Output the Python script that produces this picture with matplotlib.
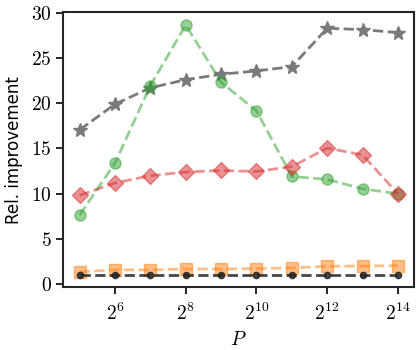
import numpy as np
import matplotlib
matplotlib.use("Agg")
import matplotlib.pyplot as plt

# data
P = [2**k for k in range(5, 15)]
baseline = [1, 1, 1, 1, 1, 1, 1, 1, 1, 1]
squares = [1.37, 1.6, 1.58, 1.7, 1.68, 1.74, 1.8, 1.99, 2.02, 2.05]
diamonds = [9.82, 11.2, 12.0, 12.4, 12.57, 12.46, 13.0, 15.04, 14.3, 10.0]
circles = [7.65, 13.39, 21.95, 28.64, 22.32, 19.16, 11.91, 11.58, 10.55, 10.0]
stars = [17.06, 19.9, 21.7, 22.6, 23.2, 23.57, 24.04, 28.28, 28.13, 27.8]
xtick_pos = [2**6, 2**8, 2**10, 2**12, 2**14]

plt.rcParams.update({
    "font.family": "serif",
    "font.serif": ["cmr10"],
    "mathtext.fontset": "cm",
    "axes.formatter.use_mathtext": True,
    "axes.unicode_minus": False,
    "font.size": 14,
})

fig = plt.figure(figsize=(4.2, 3.5), dpi=100)
ax = fig.add_axes([0.151, 0.18, 0.835, 0.785])

ax.plot(P, stars, ls="--", lw=2, marker="*", ms=10, color="#7a7a7a")
ax.plot(P, circles, ls="--", lw=2, marker="o", ms=8, color="tab:green", alpha=0.5)
ax.plot(P, diamonds, ls="--", lw=2, marker="D", ms=8, color="tab:red", alpha=0.5)
ax.plot(P, squares, ls="--", lw=2, marker="s", ms=9, color="tab:orange", alpha=0.5)
ax.plot(P, baseline, ls="--", lw=2, marker="o", ms=4.5, color="#262626", alpha=0.85)

ax.set_xscale("log", base=2)
ax.set_xticks(xtick_pos)
ax.xaxis.set_minor_locator(matplotlib.ticker.NullLocator())
ax.set_xlim(2**4.54, 2**14.46)
ax.set_ylim(-0.3, 30.05)
ax.set_yticks([0, 5, 10, 15, 20, 25, 30])

ax.set_xlabel("$P$", fontsize=14, labelpad=5)
ax.set_ylabel("Rel. improvement", fontsize=12, family="DejaVu Sans", labelpad=6)

for s in ax.spines.values():
    s.set_color("#262626")
    s.set_linewidth(1.5)
ax.tick_params(axis="both", length=5, width=1.4, color="#262626", labelsize=14)
ax.tick_params(axis="x", pad=6)

fig.savefig("out.png", dpi=100)
